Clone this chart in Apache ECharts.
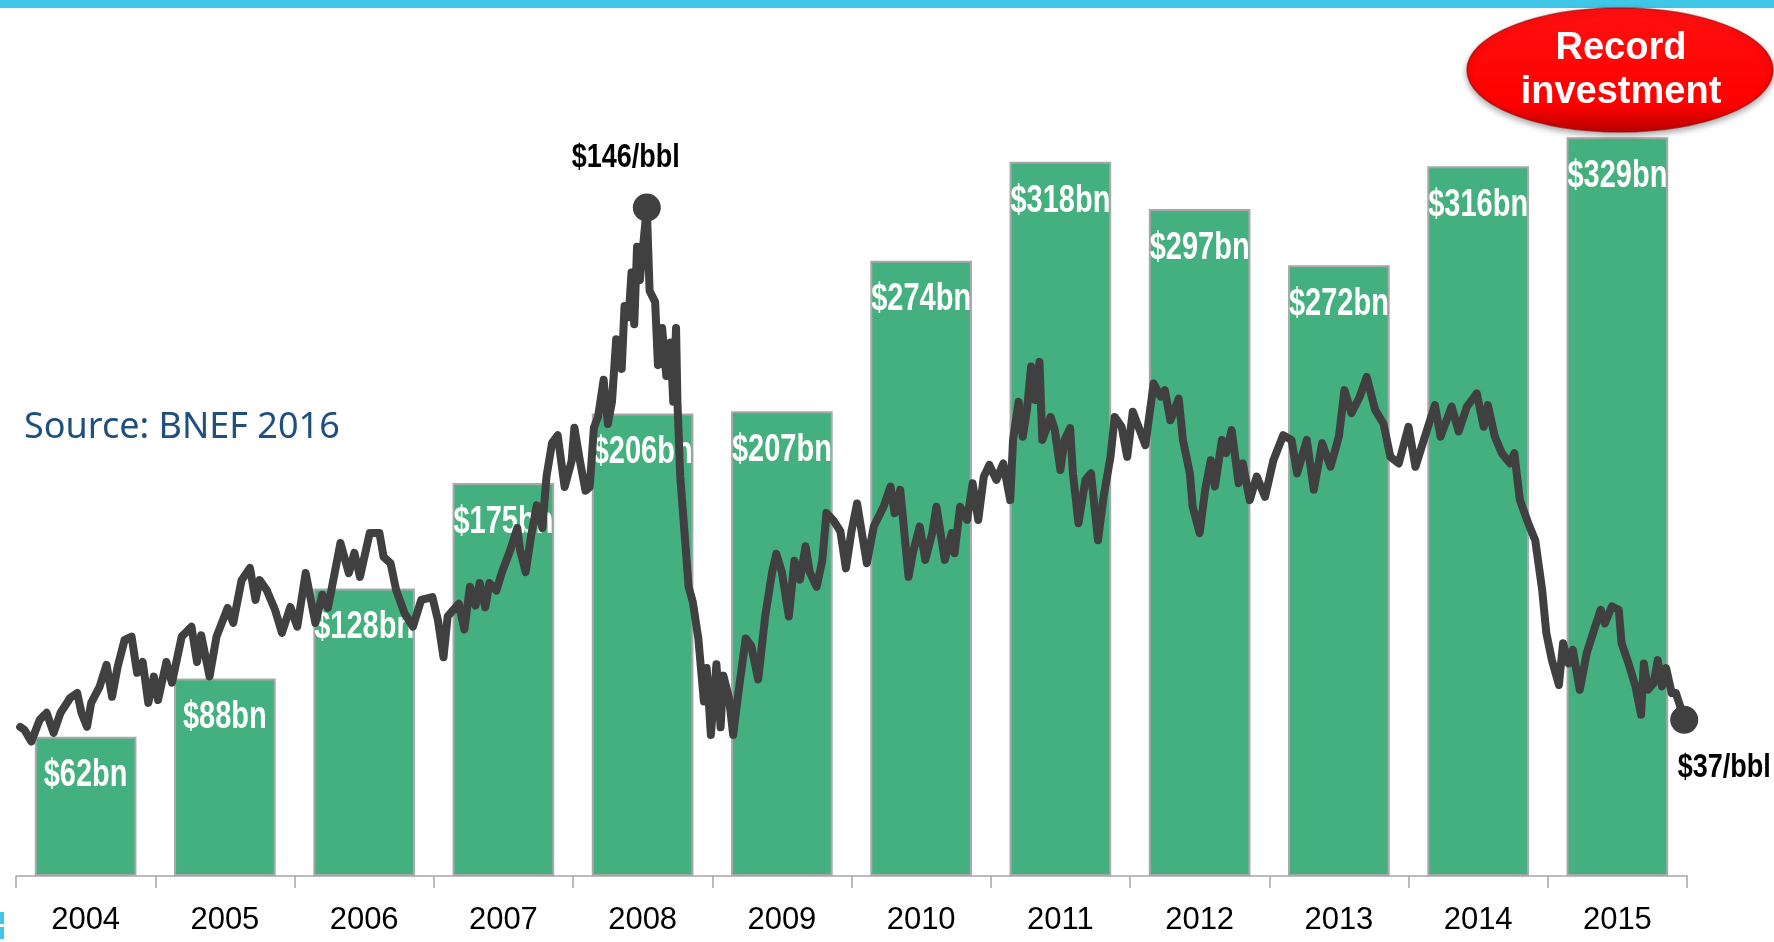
<!DOCTYPE html>
<html>
<head>
<meta charset="utf-8">
<script src="https://cdn.jsdelivr.net/npm/echarts@6/dist/echarts.min.js"></script>
<style>
html,body{margin:0;padding:0;background:#fff;}
#c{width:1774px;height:942px;}
</style>
</head>
<body>
<div id="c"></div>
<script>
// ---- data ----
var years = ['2004','2005','2006','2007','2008','2009','2010','2011','2012','2013','2014','2015'];
var investment = [62, 88, 128, 175, 206, 207, 274, 318, 297, 272, 316, 329];

var oilYears = [
2004.03,2004.06,2004.11,2004.17,2004.22,2004.27,2004.32,2004.39,2004.44,2004.47,2004.51,2004.54,2004.60,2004.65,2004.69,2004.73,2004.78,2004.83,2004.87,2004.91,2004.95,2004.99,
2005.02,2005.08,2005.12,2005.19,2005.26,2005.30,2005.33,2005.39,2005.44,2005.52,2005.56,2005.62,2005.68,2005.72,2005.75,2005.80,2005.86,2005.91,2005.97,
2006.02,2006.08,2006.15,2006.20,2006.24,2006.33,2006.39,2006.43,2006.47,2006.54,2006.61,2006.64,2006.69,2006.73,2006.79,2006.85,2006.91,2006.99,
2007.03,2007.07,2007.10,2007.18,2007.22,2007.26,2007.30,2007.33,2007.37,2007.40,2007.45,2007.49,2007.55,2007.60,2007.62,2007.66,2007.70,2007.74,2007.78,2007.81,2007.85,2007.89,2007.94,2007.99,
2008.01,2008.05,2008.09,2008.12,2008.15,2008.18,2008.22,2008.25,2008.28,2008.31,2008.35,2008.37,2008.40,2008.42,2008.44,2008.46,2008.48,2008.53,2008.55,2008.59,2008.61,2008.64,2008.67,2008.70,2008.72,2008.74,2008.75,2008.77,2008.80,2008.83,2008.86,2008.90,2008.94,2008.96,2008.99,
2009.03,2009.06,2009.08,2009.12,2009.15,2009.19,2009.24,2009.28,2009.33,2009.38,2009.43,2009.46,2009.50,2009.55,2009.59,2009.63,2009.67,2009.70,2009.75,2009.79,2009.82,2009.87,2009.92,2009.96,
2010.00,2010.04,2010.11,2010.16,2010.23,2010.28,2010.31,2010.35,2010.41,2010.44,2010.49,2010.53,2010.58,2010.61,2010.67,2010.72,2010.74,2010.78,2010.83,2010.87,2010.91,2010.95,2010.99,
2011.04,2011.09,2011.14,2011.16,2011.20,2011.23,2011.26,2011.29,2011.32,2011.35,2011.37,2011.43,2011.46,2011.50,2011.53,2011.57,2011.59,2011.63,2011.68,2011.72,2011.77,2011.81,2011.86,2011.89,2011.94,2011.98,
2012.02,2012.07,2012.11,2012.17,2012.22,2012.25,2012.29,2012.35,2012.38,2012.43,2012.45,2012.50,2012.54,2012.58,2012.61,2012.66,2012.69,2012.73,2012.78,2012.81,2012.86,2012.91,2012.97,
2013.03,2013.10,2013.16,2013.20,2013.27,2013.32,2013.38,2013.44,2013.50,2013.54,2013.59,2013.65,2013.70,2013.76,2013.82,2013.87,2013.93,
2014.00,2014.05,2014.11,2014.19,2014.23,2014.31,2014.36,2014.42,2014.49,2014.54,2014.57,2014.62,2014.67,2014.73,2014.76,2014.80,2014.86,2014.91,2014.96,2014.99,
2015.03,2015.08,2015.11,2015.15,2015.18,2015.23,2015.28,2015.34,2015.38,2015.41,2015.46,2015.51,2015.53,2015.58,2015.63,2015.67,2015.69,2015.72,2015.76,2015.79,2015.82,2015.85,2015.89,2015.92,2015.96,2015.98
];
var oilPrices = [
35.5,34.9,32.4,37.0,38.5,34.2,38.5,41.7,42.7,38.5,35.5,40.6,44.0,48.7,41.9,48.3,54.0,54.7,47.0,49.3,40.6,46.2,
41.2,49.3,44.9,54.7,56.8,49.3,55.0,46.2,54.7,60.8,57.6,66.7,69.3,62.5,66.7,64.6,60.4,55.5,61.0,
56.8,68.2,57.6,63.6,60.8,74.6,68.2,72.5,67.4,76.7,76.7,71.6,70.3,64.6,59.7,56.8,62.5,63.1,
58.2,50.3,59.0,61.7,56.2,65.3,61.3,66.1,60.9,66.1,64.5,68.4,73.1,77.8,73.1,68.4,76.3,82.6,77.8,88.8,95.9,97.5,86.5,92.0,
99.1,92.0,85.7,86.5,99.1,101.4,109.3,99.9,104.6,117.9,111.6,125.0,122.6,132.1,121.1,137.6,130.5,145.9,128.2,125.8,112.4,120.3,110.1,117.2,104.6,120.3,104.6,88.8,77.1,65.3,62.1,54.3,40.9,48.0,33.8,
48.8,35.4,46.4,41.7,33.8,43.3,54.3,52.7,45.6,59.0,68.4,72.3,68.4,59.0,70.8,66.8,73.9,68.4,65.3,70.8,81.0,79.4,77.1,69.2,
77.1,83.0,70.3,78.1,82.3,86.6,80.9,85.9,67.4,72.4,78.1,71.0,76.7,82.3,71.0,76.7,72.4,82.3,79.5,87.3,79.5,88.7,91.2,
88.0,91.5,83.7,96.5,104.6,97.2,102.9,112.1,105.0,113.1,96.5,101.4,98.6,90.1,96.5,99.0,89.4,78.8,88.0,89.4,75.2,84.4,92.9,101.4,99.3,92.9,
102.5,98.6,95.4,108.5,105.7,107.1,100.7,105.3,96.5,89.4,82.3,76.7,85.9,92.2,86.6,96.5,93.7,98.6,87.3,91.5,83.7,88.7,84.4,
92.2,97.5,96.5,89.4,96.5,85.9,95.8,90.8,97.2,107.1,102.2,105.7,109.9,102.9,100.0,92.9,91.5,
99.3,90.8,96.5,103.9,97.2,103.6,98.3,103.6,106.4,99.3,103.9,97.2,93.7,91.5,93.7,83.7,78.8,75.2,64.6,55.4,
49.7,44.4,53.3,49.0,51.9,43.4,51.2,56.8,60.4,57.5,61.1,60.4,53.3,49.0,44.1,38.1,49.0,43.4,44.8,49.7,44.1,48.0,42.7,42.7,39.1,37.0
];

// ---- build ----
var oilData = oilYears.map(function (y, i) { return [y, oilPrices[i]]; });
var peakIdx = 0;
oilPrices.forEach(function (v, i) { if (v > oilPrices[peakIdx]) peakIdx = i; });
var lastIdx = oilPrices.length - 1;
var barLabelData = investment.map(function (v, i) { return [i, v]; });

var SANS = "'Liberation Sans', Arial, sans-serif";

var chart = echarts.init(document.getElementById('c'), null, {renderer: 'canvas'});
chart.setOption({
  animation: false,
  backgroundColor: '#ffffff',
  grid: {left: 16, right: 87, top: 90, bottom: 66, containLabel: false},
  xAxis: [
    {
      type: 'category', data: years, boundaryGap: true,
      axisLine: {show: true, lineStyle: {color: '#A6A6A6', width: 1.5}},
      axisTick: {show: true, length: 12, lineStyle: {color: '#A6A6A6', width: 1.5}},
      axisLabel: {color: '#000', fontSize: 31, fontFamily: SANS, margin: 29}
    },
    {type: 'value', min: 2004, max: 2016, show: false}
  ],
  yAxis: [
    {type: 'value', min: 0, max: 350, show: false, splitLine: {show: false}},
    {type: 'value', min: 3.8, max: 170.9, show: false, splitLine: {show: false}}
  ],
  series: [
    {
      type: 'bar', data: investment, xAxisIndex: 0, yAxisIndex: 0,
      barCategoryGap: '27%', z: 2,
      itemStyle: {color: '#45B07F', borderColor: '#A8A8A8', borderWidth: 2}
    },
    {
      // bar value labels (tall condensed look via vertical scale)
      type: 'custom', xAxisIndex: 0, yAxisIndex: 0, z: 3, silent: true,
      data: barLabelData,
      renderItem: function (params, api) {
        var p = api.coord([api.value(0), api.value(1)]);
        return {
          type: 'text', x: p[0], y: p[1] + 39, scaleY: 1.33,
          style: {text: '$' + api.value(1) + 'bn', fill: '#fff', font: 'bold 29px ' + SANS,
                  align: 'center', verticalAlign: 'middle'}
        };
      }
    },
    {
      type: 'line', data: oilData, xAxisIndex: 1, yAxisIndex: 1,
      symbol: 'none', z: 5, silent: true,
      lineStyle: {color: '#404040', width: 8, join: 'round', cap: 'round'}
    },
    {
      // end-point markers with price labels
      type: 'custom', xAxisIndex: 1, yAxisIndex: 1, z: 6, silent: true,
      data: [oilData[peakIdx], oilData[lastIdx]],
      renderItem: function (params, api) {
        var p = api.coord([api.value(0), api.value(1)]);
        var off = params.dataIndex === 0 ? [-21, -50] : [40, 48];
        return {
          type: 'group',
          children: [
            {type: 'circle', shape: {cx: p[0], cy: p[1], r: 14}, style: {fill: '#404040'}},
            {type: 'text', x: p[0] + off[0], y: p[1] + off[1], scaleY: 1.25,
             style: {text: '$' + Math.round(api.value(1)) + '/bbl', fill: '#000', font: 'bold 27px ' + SANS,
                     align: 'center', verticalAlign: 'middle'}}
          ]
        };
      }
    }
  ],
  graphic: [
    {type: 'rect', left: 0, top: 0, shape: {width: 1774, height: 8}, style: {fill: '#3EC7E6'}, z: 10},
    {type: 'rect', left: 0, top: 912, shape: {width: 4, height: 12}, style: {fill: '#3EC7E6'}, z: 10},
    {type: 'rect', left: 0, top: 927, shape: {width: 4, height: 12}, style: {fill: '#3EC7E6'}, z: 10},
    {
      type: 'ellipse', shape: {cx: 1620, cy: 70, rx: 153, ry: 62}, z: 20,
      style: {
        fill: new echarts.graphic.LinearGradient(0, 0, 0, 1, [
          {offset: 0, color: '#FF1010'}, {offset: 0.78, color: '#FF0000'}, {offset: 1, color: '#B50000'}
        ]),
        stroke: 'rgba(160,0,0,0.6)', lineWidth: 1.5,
        shadowBlur: 6, shadowColor: 'rgba(0,0,0,0.35)', shadowOffsetY: 3
      }
    },
    {type: 'text', z: 21, style: {x: 1621, y: 49, text: 'Record', fill: '#fff', font: "bold 38px " + SANS, align: 'center', verticalAlign: 'middle'}},
    {type: 'text', z: 21, style: {x: 1621, y: 93, text: 'investment', fill: '#fff', font: "bold 38px " + SANS, align: 'center', verticalAlign: 'middle'}},
    {type: 'text', z: 21, style: {x: 24, y: 428, text: 'Source: BNEF 2016', fill: '#1F4E80', font: "36px 'Noto Sans', sans-serif", align: 'left', verticalAlign: 'middle'}}
  ]
});
</script>
</body>
</html>
